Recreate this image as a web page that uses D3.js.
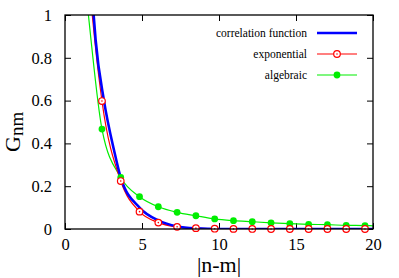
<!DOCTYPE html>
<html>
<head>
<meta charset="utf-8">
<script src="https://cdn.jsdelivr.net/npm/d3@7"></script>
<style>
  body { margin: 0; background: #fff; }
  svg { display: block; }
  svg text { font-family: "Liberation Serif", "Times New Roman", serif; }
</style>
</head>
<body>
<svg id="chart" width="399" height="278"></svg>
<script>
// sample positions of the fitted curves' markers
const markerX = [2.40, 3.62, 4.84, 6.06, 7.28, 8.50, 9.72, 10.94, 12.16, 13.38, 14.60, 15.82, 17.04, 18.26, 19.48];
const expValues = [0.598, 0.224, 0.081, 0.030, 0.010, 0.004, 0.0015, 0.0005, 0.0002, 0.0001, 0, 0, 0, 0, 0];
const algValues = [0.467, 0.241, 0.151, 0.104, 0.078, 0.062, 0.047, 0.039, 0.034, 0.029, 0.025, 0.022, 0.020, 0.017, 0.016];

// line traces (including where they leave the top)
const corrLine = [[1.86, 1.0], [1.99, 0.883], [2.53, 0.6], [3.18, 0.369], [3.62, 0.24], [4.84, 0.10],
  [6.06, 0.04], [7.28, 0.012], [8.5, 0.003], [10, 0], [20, 0]];
const expLineHead = [[1.77, 1.0], [1.93, 0.883]];
const expLineTail = [[20, 0]];
const algLineHead = [[1.52, 1.0], [1.69, 0.883]];
const algLineTail = [[20, 0.015]];

const xTicks = [0, 5, 10, 15, 20];
const yTicks = [0, 0.2, 0.4, 0.6, 0.8, 1];

const legendItems = [
  { label: 'correlation function', color: '#0000ff', width: 2.6, marker: null },
  { label: 'exponential', color: '#ff0000', width: 1.2, marker: 'open' },
  { label: 'algebraic', color: '#00ee00', width: 1.2, marker: 'filled' }
];

const L = 65, R = 373, T = 15, B = 229;
const svg = d3.select('#chart');
const x = d3.scaleLinear().domain([0, 20]).range([L, R]);
const y = d3.scaleLinear().domain([0, 1]).range([B, T]);

svg.append('clipPath').attr('id', 'clip')
  .append('rect').attr('x', L).attr('y', T).attr('width', R - L).attr('height', B - T);

// axes with inward ticks, mirrored on top/right
const axB = svg.append('g').attr('transform', `translate(0,${B})`)
  .call(d3.axisBottom(x).tickValues(xTicks).tickSizeInner(-6).tickSizeOuter(0).tickPadding(9).tickFormat(d3.format('~g')));
const axL = svg.append('g').attr('transform', `translate(${L},0)`)
  .call(d3.axisLeft(y).tickValues(yTicks).tickSizeInner(-6).tickSizeOuter(0).tickPadding(13).tickFormat(d3.format('~g')));
const axT = svg.append('g').attr('transform', `translate(0,${T})`)
  .call(d3.axisTop(x).tickValues(xTicks).tickSizeInner(-6).tickSizeOuter(0).tickFormat(''));
const axR = svg.append('g').attr('transform', `translate(${R},0)`)
  .call(d3.axisRight(y).tickValues(yTicks).tickSizeInner(-6).tickSizeOuter(0).tickFormat(''));
[axB, axL, axT, axR].forEach(a => {
  a.attr('font-family', null);
  a.select('.domain').remove();
  a.selectAll('line').attr('stroke', '#000').attr('stroke-width', 1);
  a.selectAll('text').attr('font-size', 16.5).attr('fill', '#000');
});

const line = d3.line().x(d => x(d[0])).y(d => y(d[1])).curve(d3.curveMonotoneX);
const plot = svg.append('g').attr('clip-path', 'url(#clip)');

const expPts = expLineHead.concat(markerX.map((v, i) => [v, expValues[i]]), expLineTail);
const algPts = algLineHead.concat(markerX.map((v, i) => [v, algValues[i]]), algLineTail);

plot.append('path').datum(algPts).attr('d', line)
  .attr('fill', 'none').attr('stroke', legendItems[2].color).attr('stroke-width', 1.2);
plot.append('path').datum(expPts).attr('d', line)
  .attr('fill', 'none').attr('stroke', legendItems[1].color).attr('stroke-width', 1.2);
plot.append('path').datum(corrLine).attr('d', line)
  .attr('fill', 'none').attr('stroke', legendItems[0].color).attr('stroke-width', 2.6);

function openMarker(g, cx, cy, color) {
  g.append('circle').attr('cx', cx).attr('cy', cy).attr('r', 3.3)
    .attr('fill', '#fff').attr('stroke', color).attr('stroke-width', 1.2);
  g.append('circle').attr('cx', cx).attr('cy', cy).attr('r', 0.8).attr('fill', color);
}
function filledMarker(g, cx, cy, color) {
  g.append('circle').attr('cx', cx).attr('cy', cy).attr('r', 3.4).attr('fill', color);
}

markerX.forEach((v, i) => filledMarker(svg, x(v), y(algValues[i]), legendItems[2].color));
markerX.forEach((v, i) => openMarker(svg, x(v), y(expValues[i]), legendItems[1].color));

// frame
svg.append('rect').attr('x', L).attr('y', T).attr('width', R - L).attr('height', B - T)
  .attr('fill', 'none').attr('stroke', '#000').attr('stroke-width', 1.3);

// legend
const legend = svg.append('g');
legendItems.forEach((it, i) => {
  const ly = 33 + i * 21;
  legend.append('text').attr('x', 307).attr('y', ly).attr('dy', '0.35em')
    .attr('text-anchor', 'end').attr('font-size', 11.5).attr('fill', '#000').text(it.label);
  legend.append('line').attr('x1', 317).attr('x2', 357).attr('y1', ly).attr('y2', ly)
    .attr('stroke', it.color).attr('stroke-width', it.width);
  if (it.marker === 'open') openMarker(legend, 337, ly, it.color);
  if (it.marker === 'filled') filledMarker(legend, 337, ly, it.color);
});

// axis titles
svg.append('text').attr('x', 219).attr('y', 272).attr('text-anchor', 'middle')
  .attr('font-size', 22).attr('fill', '#000').text('|n-m|');

const yt = svg.append('text').attr('transform', 'translate(20,152) rotate(-90)')
  .attr('fill', '#000');
yt.append('tspan').attr('font-size', 22).text('G');
yt.append('tspan').attr('font-size', 19).attr('dy', 3).text('nm');
</script>
</body>
</html>
